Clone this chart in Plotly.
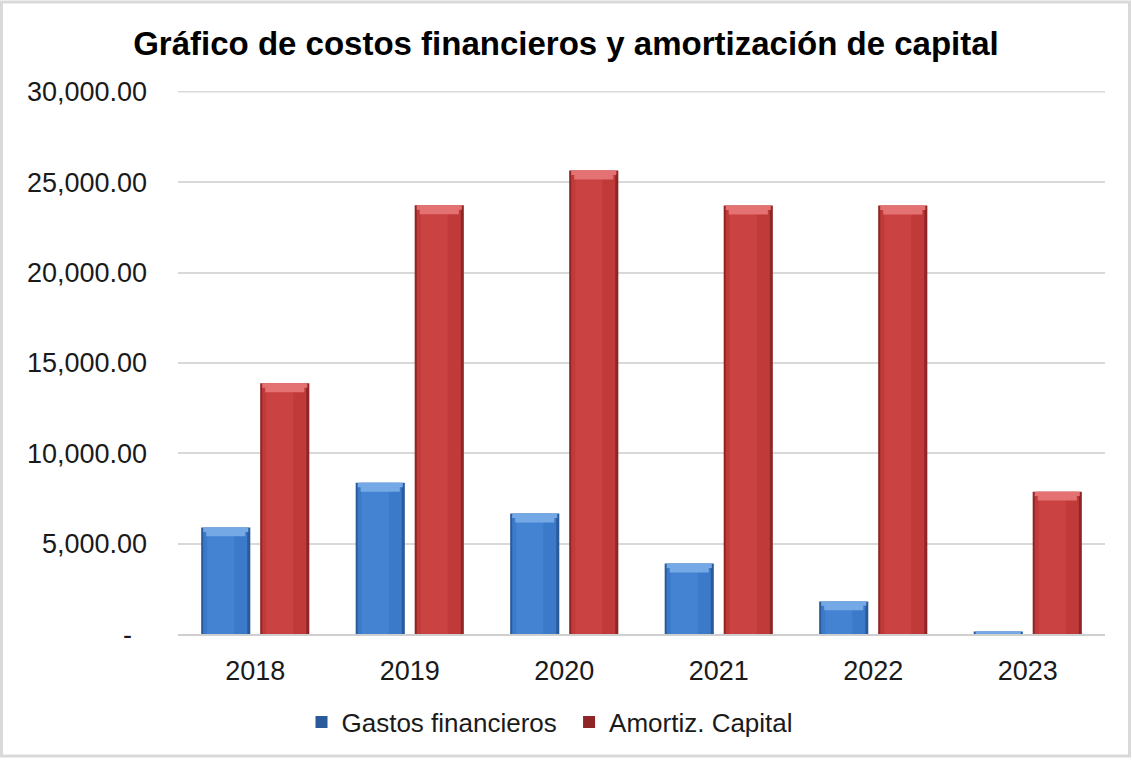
import plotly.graph_objects as go

# Chart data
years = ["2018", "2019", "2020", "2021", "2022", "2023"]
gastos_financieros = [5900, 8370, 6670, 3900, 1810, 150]
amortiz_capital = [13870, 23720, 25640, 23700, 23700, 7880]

y_tick_vals = [0, 5000, 10000, 15000, 20000, 25000, 30000]
y_tick_text = ["-\u00a0\u00a0", "5,000.00", "10,000.00", "15,000.00",
               "20,000.00", "25,000.00", "30,000.00"]

FONT = "Liberation Sans, Arial, sans-serif"
GRID = "#d9d9d9"

# geometry helpers (category unit = one year slot)
BAR_W = 0.318
HALF_GAP = 0.032
PX_X = 1 / 154.3          # one pixel in category units
PX_Y = 30000 / 546        # one pixel in value units
CAP = 9 * PX_Y            # height of the light bevel on top of each bar

series = [
    dict(name="Gastos financieros\u00a0", values=gastos_financieros,
         offset=-HALF_GAP - BAR_W,
         edge="#2a5a9a", main="#3b79c9", light="#4483d2", cap="#74a9e6"),
    dict(name="Amortiz. Capital", values=amortiz_capital,
         offset=HALF_GAP,
         edge="#8e2526", main="#c03a3a", light="#ca4242", cap="#e47272"),
]

fig = go.Figure()

for s in series:
    vals = s["values"]
    # outer bar (dark rim) - carries the legend entry
    fig.add_trace(go.Bar(
        x=years, y=vals, name=s["name"], width=BAR_W, offset=s["offset"],
        marker=dict(color=s["edge"], line=dict(width=0)),
        showlegend=True, legendgroup=s["name"],
    ))
    # body
    fig.add_trace(go.Bar(
        x=years, y=[max(v - 2 * PX_Y, 0) for v in vals],
        width=BAR_W - 5 * PX_X, offset=s["offset"] + 2 * PX_X,
        marker=dict(color=s["main"], line=dict(width=0)),
        showlegend=False, legendgroup=s["name"], hoverinfo="skip",
    ))
    # lighter sheen towards the left/centre
    fig.add_trace(go.Bar(
        x=years, y=[max(v - 3 * PX_Y, 0) for v in vals],
        width=BAR_W - 22 * PX_X, offset=s["offset"] + 6 * PX_X,
        marker=dict(color=s["light"], line=dict(width=0)),
        showlegend=False, legendgroup=s["name"], hoverinfo="skip",
    ))
    # bevelled top: two bands narrowing downwards
    fig.add_trace(go.Bar(
        x=years, y=[min(CAP, v) for v in vals],
        base=[v - min(CAP, v) for v in vals],
        width=BAR_W - 10 * PX_X, offset=s["offset"] + 5 * PX_X,
        marker=dict(color=s["cap"], line=dict(width=0)),
        showlegend=False, legendgroup=s["name"], hoverinfo="skip",
    ))
    fig.add_trace(go.Bar(
        x=years, y=[min(CAP / 2, v) for v in vals],
        base=[v - min(CAP / 2, v) for v in vals],
        width=BAR_W - 4 * PX_X, offset=s["offset"] + 2 * PX_X,
        marker=dict(color=s["cap"], line=dict(width=0)),
        showlegend=False, legendgroup=s["name"], hoverinfo="skip",
    ))

fig.update_layout(
    width=1132, height=761,
    paper_bgcolor="white", plot_bgcolor="white",
    barmode="overlay",
    margin=dict(l=178, r=27, t=91, b=124),
    font=dict(family=FONT, size=26, color="#1a1a1a"),
    title=dict(
        text="<b>Gráfico de costos financieros y amortización de capital</b>",
        x=0.5, xanchor="center", xref="container",
        y=1 - 43 / 761, yanchor="middle", yref="container",
        font=dict(family=FONT, size=33, color="#000000"),
    ),
    xaxis=dict(
        type="category", categoryorder="array", categoryarray=years,
        showgrid=False, showline=True, linecolor="#cfcfcf", linewidth=2,
        ticks="", ticklabelstandoff=12,
        tickfont=dict(family=FONT, size=27, color="#1a1a1a"),
        range=[-0.5, 5.5],
    ),
    yaxis=dict(
        range=[0, 30040], tickvals=y_tick_vals, ticktext=y_tick_text,
        showgrid=True, gridcolor=GRID, gridwidth=1.5,
        zeroline=False, showline=False, ticks="",
        ticklabelstandoff=30,
        tickfont=dict(family=FONT, size=27, color="#1a1a1a"),
    ),
    legend=dict(
        orientation="h", x=0.5 - 16 / 1132, xanchor="center", xref="container",
        y=1 - 722 / 761, yanchor="middle", yref="container",
        font=dict(family=FONT, size=26, color="#1a1a1a"),
        itemwidth=30, traceorder="normal", bgcolor="rgba(0,0,0,0)",
    ),
    shapes=[
        # outer frame of the chart
        dict(
            type="rect", xref="paper", yref="paper",
            x0=(1.5 - 178) / 927, x1=(1129.5 - 178) / 927,
            y0=(637 - 759.5) / 546, y1=(637 - 1.5) / 546,
            line=dict(color=GRID, width=3), fillcolor="rgba(0,0,0,0)",
            layer="below",
        ),
        # top gridline at the axis maximum
        dict(
            type="line", xref="paper", yref="y",
            x0=0, x1=1, y0=y_tick_vals[-1], y1=y_tick_vals[-1],
            line=dict(color=GRID, width=1.5), layer="below",
        ),
    ],
)

fig.write_html("out.html")
